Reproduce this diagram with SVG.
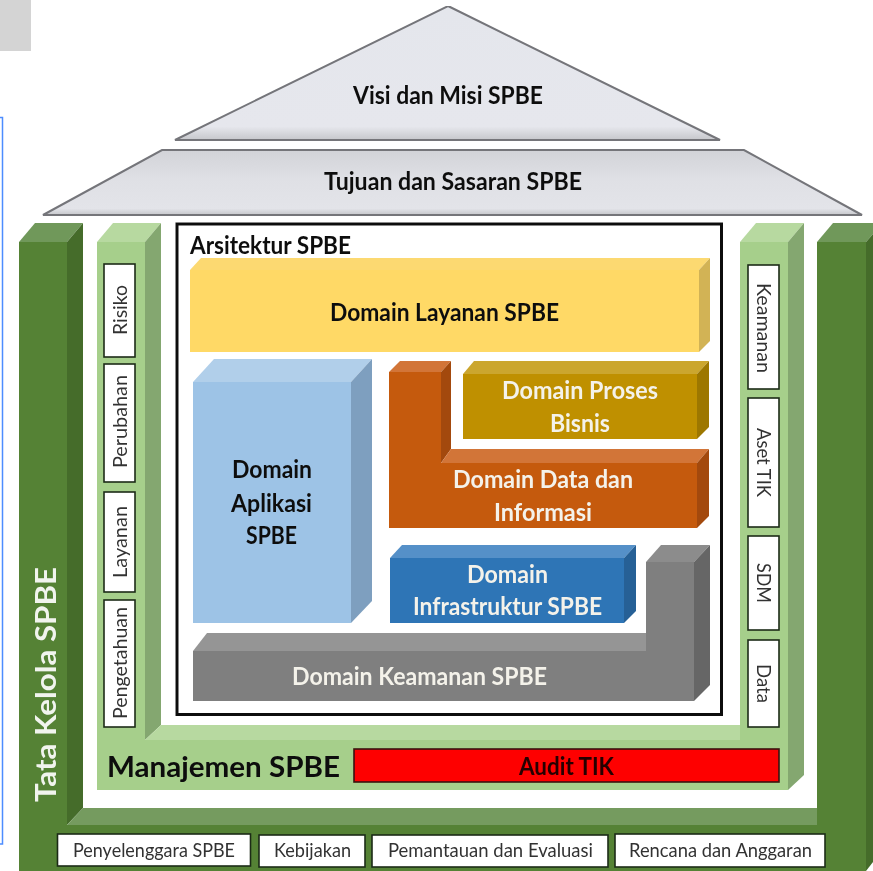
<svg xmlns="http://www.w3.org/2000/svg" width="873" height="871" viewBox="0 0 873 871">
<defs>
<linearGradient id="roof" x1="0" y1="0" x2="0" y2="1"><stop offset="0" stop-color="#e4e6ec"/><stop offset="0.9" stop-color="#e6e7ed"/><stop offset="1" stop-color="#c6c7cb"/></linearGradient>
<linearGradient id="band" x1="0" y1="0" x2="0" y2="1"><stop offset="0" stop-color="#d2d3d8"/><stop offset="0.45" stop-color="#dfe0e5"/><stop offset="0.9" stop-color="#e3e4e9"/><stop offset="1" stop-color="#c6c7cb"/></linearGradient>
<filter id="soft" x="0" y="0" width="100%" height="100%"><feGaussianBlur stdDeviation="0.45"/></filter>
</defs>
<style>
text{font-family:"Lato","Liberation Sans",sans-serif}
.b{font-weight:700;font-size:24px;fill:#111}
.w{font-weight:700;font-size:24px;fill:#f4f2ea}
.l{font-size:19px;fill:#333}
.box{fill:#fff;stroke:#1c2b17;stroke-width:1.6}
</style>
<rect width="873" height="871" fill="#fff"/>
<g id="corner-mark"><rect x="0" y="0" width="31" height="51" fill="#d4d4d4"/></g>
<g id="side-frame"><path d="M0 117.500H2.500V844H0" fill="none" stroke="#4d8dff" stroke-width="1.500"/></g>
<g filter="url(#soft)">

<g id="visi-misi">
<polygon points="448,6 720,140 175,140" fill="url(#roof)" stroke="#74757a" stroke-width="2"/>
<text class="b" x="353" y="104" textLength="190" lengthAdjust="spacingAndGlyphs">Visi dan Misi SPBE</text>
</g>
<g id="tujuan-sasaran">
<polygon points="162,150 744,150 862,215 43,215" fill="url(#band)" stroke="#74757a" stroke-width="2"/>
<text class="b" x="324" y="190" textLength="258" lengthAdjust="spacingAndGlyphs">Tujuan dan Sasaran SPBE</text>
</g>

<g id="tata-kelola">
<polygon points="19,242 67,242 67,825 817,825 817,242 866,242 866,871 19,871" fill="#548235"/>
<polygon points="19,242 35,223 83,223 67,242" fill="#70985a"/>
<polygon points="67,242 83,223 83,808 67,825" fill="#456c2c"/>
<polygon points="67,825 83,808 817,808 817,825" fill="#749b5f"/>
<polygon points="817,242 833,223 873,223 873,234 866,242" fill="#70985a"/>
<polygon points="866,242 873,234 873,862 866,871" fill="#456c2c"/>
<text transform="translate(56 802) rotate(-90)" x="0" y="0" font-size="28" font-weight="700" fill="#f1f4ee" textLength="235" lengthAdjust="spacingAndGlyphs">Tata Kelola SPBE</text>
</g>

<g id="manajemen">
<polygon points="97,242 145,242 145,740 740,740 740,242 788,242 788,790 97,790" fill="#a6cf8b"/>
<polygon points="97,242 113,223 161,223 145,242" fill="#b7d9a0"/>
<polygon points="145,242 161,223 161,725 145,740" fill="#84a76f"/>
<polygon points="145,740 161,725 740,725 740,740" fill="#b7d9a0"/>
<polygon points="740,242 756,223 804,223 788,242" fill="#b7d9a0"/>
<polygon points="788,242 804,223 804,775 788,790" fill="#84a76f"/>
<text x="107" y="777" font-size="28" font-weight="700" fill="#0d0d0d" textLength="233" lengthAdjust="spacingAndGlyphs">Manajemen SPBE</text>
</g>

<g id="arsitektur">
<rect x="177" y="224" width="544.500" height="490.500" fill="#fff" stroke="#111" stroke-width="3"/>
<text class="b" x="190" y="254" textLength="161" lengthAdjust="spacingAndGlyphs">Arsitektur SPBE</text>
</g>

<g id="domain-layanan">
<polygon points="190,270 201,258 710,258 699,270" fill="#fcd971"/>
<rect x="190" y="270" width="509" height="82" fill="#ffd966"/>
<polygon points="699,270 710,258 710,341 699,352" fill="#d2b354"/>
<text class="b" x="330" y="321" textLength="229" lengthAdjust="spacingAndGlyphs">Domain Layanan SPBE</text>
</g>

<g id="domain-aplikasi">
<polygon points="193,382 214,359 372,359 351,382" fill="#b1cfea"/>
<rect x="193" y="382" width="158" height="241" fill="#9dc3e6"/>
<polygon points="351,382 372,359 372,601 351,623" fill="#7e9fbf"/>
<text class="b" x="232" y="478" textLength="80" lengthAdjust="spacingAndGlyphs">Domain</text>
<text class="b" x="231" y="512" textLength="81" lengthAdjust="spacingAndGlyphs">Aplikasi</text>
<text class="b" x="246" y="544" textLength="51" lengthAdjust="spacingAndGlyphs">SPBE</text>
</g>

<g id="domain-data">
<polygon points="389,372 441,372 441,463 697,463 697,528 389,528" fill="#c55a11"/>
<polygon points="389,372 400,361 451,361 441,372" fill="#d27439"/>
<polygon points="441,372 451,361 451,449 441,463" fill="#a34a0e"/>
<polygon points="441,463 451,449 709,449 697,463" fill="#d27439"/>
<polygon points="697,463 709,449 709,516 697,528" fill="#a34a0e"/>
<text class="w" x="453" y="488" textLength="180" lengthAdjust="spacingAndGlyphs">Domain Data dan</text>
<text class="w" x="494" y="521" textLength="98" lengthAdjust="spacingAndGlyphs">Informasi</text>
</g>

<g id="domain-proses">
<polygon points="463,374 474,361 709,361 697,374" fill="#cba62f"/>
<rect x="463" y="374" width="234" height="65" fill="#bf9000"/>
<polygon points="697,374 709,361 709,427 697,439" fill="#9d7700"/>
<text class="w" x="502" y="399" textLength="156" lengthAdjust="spacingAndGlyphs">Domain Proses</text>
<text class="w" x="550" y="432" textLength="60" lengthAdjust="spacingAndGlyphs">Bisnis</text>
</g>

<g id="domain-infrastruktur">
<polygon points="390,558 402,545 636,545 624,558" fill="#5590c8"/>
<rect x="390" y="558" width="234" height="65" fill="#2e75b6"/>
<polygon points="624,558 636,545 636,611 624,623" fill="#256096"/>
<text class="w" x="467" y="583" textLength="81" lengthAdjust="spacingAndGlyphs">Domain</text>
<text class="w" x="413" y="615" textLength="189" lengthAdjust="spacingAndGlyphs">Infrastruktur SPBE</text>
</g>

<g id="domain-keamanan">
<polygon points="193,651 646,651 646,562 694,562 694,701 193,701" fill="#7f7f7f"/>
<polygon points="193,651 207,633 646,633 646,651" fill="#959595"/>
<polygon points="646,562 661,545 710,545 694,562" fill="#8c8c8c"/>
<polygon points="694,562 710,545 710,685 694,701" fill="#666"/>
<text class="w" x="292" y="685" textLength="255" lengthAdjust="spacingAndGlyphs">Domain Keamanan SPBE</text>
</g>

<g id="audit-tik">
<rect x="354" y="749" width="425" height="33" fill="#fe0000" stroke="#3a1410" stroke-width="1.600"/>
<text x="519" y="775" font-size="24" font-weight="700" fill="#260303" textLength="95" lengthAdjust="spacingAndGlyphs">Audit TIK</text>
</g>

<g id="risiko"><rect class="box" x="104" y="264" width="31" height="93"/>
<text class="l" transform="translate(126.500 335) rotate(-90)" textLength="50" lengthAdjust="spacingAndGlyphs">Risiko</text></g>
<g id="perubahan"><rect class="box" x="104" y="364" width="31" height="118"/>
<text class="l" transform="translate(126.500 468) rotate(-90)" textLength="93" lengthAdjust="spacingAndGlyphs">Perubahan</text></g>
<g id="layanan"><rect class="box" x="104" y="492" width="31" height="100"/>
<text class="l" transform="translate(126.500 578) rotate(-90)" textLength="72" lengthAdjust="spacingAndGlyphs">Layanan</text></g>
<g id="pengetahuan"><rect class="box" x="104" y="600" width="31" height="127"/>
<text class="l" transform="translate(126.500 719) rotate(-90)" textLength="112" lengthAdjust="spacingAndGlyphs">Pengetahuan</text></g>

<g id="keamanan"><rect class="box" x="748" y="265" width="31" height="124"/>
<text class="l" transform="translate(757 283) rotate(90)" textLength="90" lengthAdjust="spacingAndGlyphs">Keamanan</text></g>
<g id="aset-tik"><rect class="box" x="748" y="398" width="31" height="129"/>
<text class="l" transform="translate(757 428) rotate(90)" textLength="69" lengthAdjust="spacingAndGlyphs">Aset TIK</text></g>
<g id="sdm"><rect class="box" x="748" y="536" width="31" height="94"/>
<text class="l" transform="translate(757 563) rotate(90)" textLength="40" lengthAdjust="spacingAndGlyphs">SDM</text></g>
<g id="data"><rect class="box" x="748" y="640" width="31" height="87"/>
<text class="l" transform="translate(757 664) rotate(90)" textLength="39" lengthAdjust="spacingAndGlyphs">Data</text></g>

<g id="penyelenggara"><rect class="box" x="57.500" y="834" width="193" height="32"/>
<text class="l" x="73" y="857" textLength="162" lengthAdjust="spacingAndGlyphs">Penyelenggara SPBE</text></g>
<g id="kebijakan"><rect class="box" x="259" y="835" width="106" height="32"/>
<text class="l" x="274" y="857" textLength="77" lengthAdjust="spacingAndGlyphs">Kebijakan</text></g>
<g id="pemantauan"><rect class="box" x="372" y="835" width="236" height="32"/>
<text class="l" x="388" y="857" textLength="205" lengthAdjust="spacingAndGlyphs">Pemantauan dan Evaluasi</text></g>
<g id="rencana"><rect class="box" x="615" y="834" width="210" height="33"/>
<text class="l" x="629" y="857" textLength="183" lengthAdjust="spacingAndGlyphs">Rencana dan Anggaran</text></g>
</g>
</svg>
